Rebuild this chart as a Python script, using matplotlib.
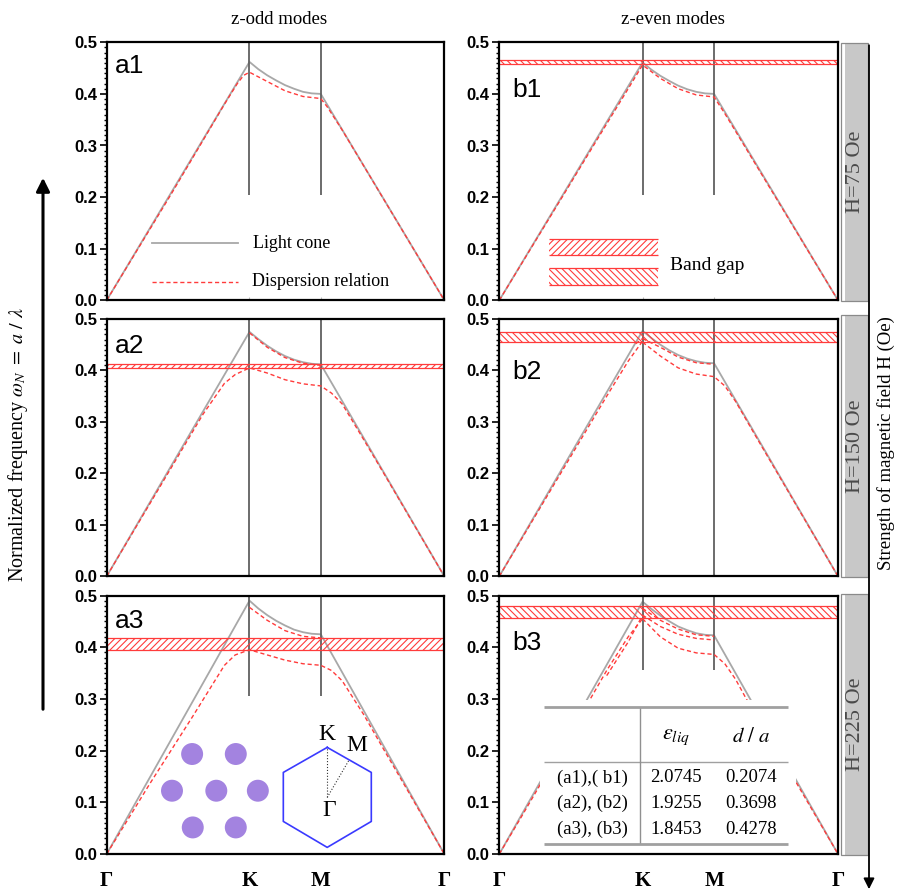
import matplotlib
matplotlib.use('Agg')
import matplotlib.pyplot as plt
from matplotlib.patches import Rectangle
from matplotlib.ticker import MultipleLocator

plt.rcParams['font.family'] = ['Liberation Serif', 'DejaVu Serif']
plt.rcParams['mathtext.fontset'] = 'stix'
plt.rcParams['hatch.linewidth'] = 0.8
plt.rcParams['hatch.color'] = '#ff3b3b'

W, H = 898, 893

# k-path: Gamma - K - M - Gamma
path_ticks = [0.0, 0.667, 1.0, 1.577]
path_labels = ['Γ', 'K', 'M', 'Γ']

# light cone
cone_k = [0.0, 0.667, 0.708, 0.75, 0.792, 0.833, 0.875, 0.917, 0.958, 1.0, 1.577]
cone_a1 = [0.0, 0.462, 0.448, 0.436, 0.426, 0.417, 0.410, 0.404, 0.401, 0.400, 0.0]
cone_a2 = [0.0, 0.475, 0.461, 0.448, 0.437, 0.428, 0.421, 0.416, 0.413, 0.412, 0.0]
cone_a3 = [0.0, 0.490, 0.475, 0.462, 0.451, 0.442, 0.434, 0.429, 0.426, 0.425, 0.0]
cone_b1 = [0.0, 0.461, 0.447, 0.435, 0.425, 0.416, 0.409, 0.404, 0.401, 0.400, 0.0]
cone_b2 = [0.0, 0.477, 0.463, 0.450, 0.439, 0.430, 0.423, 0.418, 0.415, 0.414, 0.0]
cone_b3 = [0.0, 0.488, 0.474, 0.461, 0.450, 0.440, 0.433, 0.427, 0.424, 0.423, 0.0]

# dispersion branches (k, omega)
km_k = [0.667, 0.75, 0.833, 0.917, 1.0]
disp_a1 = [
    ([0.0, 0.3, 0.55, 0.61, 0.64, 0.667, 0.75, 0.833, 0.917, 1.0, 1.03, 1.1, 1.577],
     [0.0, 0.205, 0.38, 0.42, 0.436, 0.442, 0.424, 0.406, 0.395, 0.391, 0.375, 0.33, 0.0]),
]
disp_a2 = [
    ([0.0, 0.3, 0.45, 0.55, 0.6, 0.667, 0.75, 0.833, 0.917, 1.0, 1.05, 1.1, 1.2, 1.3, 1.577],
     [0.0, 0.21, 0.315, 0.375, 0.392, 0.405, 0.395, 0.382, 0.374, 0.370, 0.356, 0.335, 0.266, 0.196, 0.0]),
    (km_k, [0.473, 0.445, 0.425, 0.414, 0.410]),
]
disp_a3 = [
    ([0.0, 0.2, 0.4, 0.55, 0.6, 0.667, 0.75, 0.833, 0.917, 1.0, 1.05, 1.1, 1.2, 1.3, 1.4, 1.577],
     [0.0, 0.135, 0.265, 0.365, 0.385, 0.395, 0.385, 0.375, 0.368, 0.365, 0.355, 0.335, 0.27, 0.198, 0.127, 0.0]),
    (km_k, [0.477, 0.452, 0.432, 0.421, 0.418]),
]
disp_b1 = [
    ([0.0, 0.3, 0.5, 0.6, 0.667, 0.75, 0.833, 0.917, 1.0, 1.05, 1.2, 1.577],
     [0.0, 0.205, 0.342, 0.41, 0.456, 0.43, 0.41, 0.398, 0.394, 0.362, 0.259, 0.0]),
]
disp_b2 = [
    ([0.0, 0.3, 0.5, 0.6, 0.667], [0.0, 0.21, 0.350, 0.418, 0.457]),
    ([0.635, 0.667], [0.452, 0.462]),
    (km_k, [0.462, 0.445, 0.426, 0.415, 0.412]),
    (km_k + [1.05, 1.1, 1.2, 1.577], [0.455, 0.428, 0.405, 0.393, 0.388, 0.37, 0.34, 0.268, 0.0]),
]
disp_b3 = [
    ([0.0, 0.1, 0.41, 0.5, 0.6, 0.667], [0.0, 0.07, 0.29, 0.355, 0.42, 0.455]),
    ([0.5, 0.6, 0.667], [0.345, 0.41, 0.462]),
    (km_k, [0.475, 0.452, 0.435, 0.424, 0.421]),
    (km_k, [0.462, 0.44, 0.425, 0.417, 0.414]),
    (km_k + [1.05, 1.1, 1.15, 1.2, 1.577], [0.455, 0.42, 0.398, 0.389, 0.386, 0.368, 0.338, 0.30, 0.268, 0.0]),
]

# band gaps (lower, upper)
gap_a2 = (0.4056, 0.4134)
gap_a3 = (0.3955, 0.4175)
gap_b1 = (0.4574, 0.4650)
gap_b2 = (0.4560, 0.4755)
gap_b3 = (0.4556, 0.4794)

# lower end of the K / M marker lines
vline_bottom = {'a1': 0.205, 'a2': 0.0, 'a3': 0.305, 'b1': 0.205, 'b2': 0.0, 'b3': 0.355}

# table in b3
table_rows = ['(a1),( b1)', '(a2), (b2)', '(a3), (b3)']
eps_liq = ['2.0745', '1.9255', '1.8453']
d_over_a = ['0.2074', '0.3698', '0.4278']

# lattice inset (a3)
rod_x = [0.399, 0.603, 0.305, 0.512, 0.706, 0.402, 0.603]
rod_y = [0.1934, 0.1934, 0.1224, 0.1224, 0.1224, 0.0514, 0.0514]
hex_x = [1.030, 1.236, 1.236, 1.030, 0.825, 0.825, 1.030]
hex_y = [0.2062, 0.1578, 0.0630, 0.0128, 0.0630, 0.1578, 0.2062]

field_labels = ['H=75 Oe', 'H=150 Oe', 'H=225 Oe']

RED = '#ff3b3b'
GRAY = '#a8a8a8'

fig = plt.figure(figsize=(W / 100, H / 100), dpi=100)

rows_px = [(42.3, 300.3), (319.0, 576.3), (595.5, 854.0)]
cols_px = [(106.7, 444.3), (499.3, 838.0)]

panels = {
    'a1': (0, 0, cone_a1, disp_a1, None, '/////', (0.025, 0.881)),
    'a2': (1, 0, cone_a2, disp_a2, gap_a2, '/////', (0.025, 0.867)),
    'a3': (2, 0, cone_a3, disp_a3, gap_a3, '/////', (0.025, 0.876)),
    'b1': (0, 1, cone_b1, disp_b1, gap_b1, '\\\\\\\\\\', (0.037, 0.789)),
    'b2': (1, 1, cone_b2, disp_b2, gap_b2, '\\\\\\\\\\', (0.037, 0.768)),
    'b3': (2, 1, cone_b3, disp_b3, gap_b3, '\\\\\\\\\\', (0.037, 0.790)),
}

axes = {}
for name, (r, c, cone, disp, gap, hatch, lab_pos) in panels.items():
    top, bot = rows_px[r]
    x0, x1 = cols_px[c]
    ax = fig.add_axes([x0 / W, (H - bot) / H, (x1 - x0) / W, (bot - top) / H])
    axes[name] = ax
    ax.set_xlim(0, path_ticks[-1])
    ax.set_ylim(0, 0.5)

    ax.plot(cone_k, cone, color=GRAY, lw=1.3, zorder=2)
    for kk, ww in disp:
        ax.plot(kk, ww, color=RED, lw=1.0, ls=(0, (3, 2)), zorder=2.2)
    ax.vlines(path_ticks[1:3], vline_bottom[name], 0.5, color='#606060', lw=1.3, zorder=2.1)

    if gap is not None:
        ax.fill_between(path_ticks[::3], gap[0], gap[1], facecolor='none', edgecolor=RED,
                        hatch=hatch, linewidth=0, zorder=2.5)
        ax.axhline(gap[0], color=RED, lw=0.9, zorder=2.5)
        ax.axhline(gap[1], color=RED, lw=0.9, zorder=2.5)

    ax.text(lab_pos[0], lab_pos[1], name, transform=ax.transAxes, fontsize=19,
            family='Liberation Sans', va='baseline', ha='left')

    ax.yaxis.set_major_locator(MultipleLocator(0.1))
    ax.yaxis.set_minor_locator(MultipleLocator(0.01))
    ax.yaxis.set_major_formatter(plt.FormatStrFormatter('%.1f'))
    ax.tick_params(axis='y', which='major', direction='out', length=5, width=1.2, pad=2)
    ax.tick_params(axis='y', which='minor', direction='out', length=2.5, width=1.0)
    for lbl in ax.get_yticklabels():
        lbl.set_family('Liberation Sans')
        lbl.set_fontweight('bold')
        lbl.set_fontsize(12)

    ax.set_xticks(path_ticks)
    if r == 2:
        ax.set_xticklabels(path_labels, fontsize=15, fontweight='bold')
        ax.tick_params(axis='x', length=0, pad=12)
    else:
        ax.set_xticklabels([])
        ax.tick_params(axis='x', length=2, direction='in', color='#bbbbbb')
    for sp in ax.spines.values():
        sp.set_linewidth(1.6)

# legend in a1
ax = axes['a1']
ax.plot([0.21, 0.615], [0.111, 0.111], color=GRAY, lw=1.3)
ax.text(0.683, 0.111, 'Light cone', fontsize=13, va='center')
ax.plot([0.21, 0.615], [0.0355, 0.0355], color=RED, lw=1.0, ls=(0, (3, 2)))
ax.text(0.68, 0.0355, 'Dispersion relation', fontsize=13, va='center')

# band gap legend in b1
ax = axes['b1']
for (lo, hi), hh in [((0.0884, 0.1188), '/////'), ((0.0304, 0.0627), '\\\\\\\\\\')]:
    ax.fill_between([0.233, 0.741], lo, hi, facecolor='none', edgecolor=RED, hatch=hh, linewidth=0)
    ax.hlines([lo, hi], 0.233, 0.741, color=RED, lw=0.9)
ax.text(0.795, 0.0677, 'Band gap', fontsize=14, va='center')

# lattice and Brillouin zone in a3
ax = axes['a3']
ax.scatter(rod_x, rod_y, s=250, color='#a383e0', edgecolors='none', zorder=3)
ax.plot(hex_x, hex_y, color='#3a3aff', lw=1.2, zorder=3)
ax.plot([1.030, 1.030], [0.1094, 0.2062], color='#333333', lw=0.8, ls=':', zorder=3)
ax.plot([1.030, 1.133], [0.1094, 0.1824], color='#333333', lw=0.8, ls=':', zorder=3)
ax.text(1.030, 0.232, 'K', fontsize=17, ha='center', va='center', zorder=3)
ax.text(1.168, 0.209, 'M', fontsize=17, ha='center', va='center', zorder=3)
ax.text(1.040, 0.084, 'Γ', fontsize=17, ha='center', va='center', zorder=3)

# parameter table in b3
ax = axes['b3']
ax.add_patch(Rectangle((0.19, 0.003), 1.19, 0.294, facecolor='white', edgecolor='none', zorder=3))
ax.hlines([0.2846, 0.0199], 0.21, 1.345, color='#a0a0a0', lw=2.0, zorder=4)
ax.hlines(0.1786, 0.21, 1.345, color='#a0a0a0', lw=1.0, zorder=4)
ax.vlines(0.6528, 0.022, 0.283, color='#909090', lw=1.0, zorder=4)
ax.text(0.8244, 0.2256, r'$\varepsilon_{liq}$', fontsize=16, ha='center', va='center', zorder=4)
ax.text(1.174, 0.2256, r'$d\ /\ a$', fontsize=15, ha='center', va='center', zorder=4)
for i, yy in enumerate([0.1471, 0.0983, 0.0474]):
    ax.text(0.4353, yy, table_rows[i], fontsize=13.5, ha='center', va='center', zorder=4)
    ax.text(0.8244, yy, eps_liq[i], fontsize=13.5, ha='center', va='center', zorder=4)
    ax.text(1.174, yy, d_over_a[i], fontsize=13.5, ha='center', va='center', zorder=4)

# column titles
fig.text(279 / W, 1 - 19 / H, 'z-odd modes', fontsize=13.5, ha='center', va='center')
fig.text(673 / W, 1 - 19 / H, 'z-even modes', fontsize=13.5, ha='center', va='center')

# left axis label with arrow
fig.text(18 / W, 1 - 445 / H, r'Normalized frequency $\omega_N\ =\ a\ /\ \lambda$', fontsize=14.5,
         rotation=90, ha='center', va='center')
fig.patches.append(matplotlib.patches.FancyArrowPatch(
    (43 / W, 1 - 712 / H), (43 / W, 1 - 175 / H), transform=fig.transFigure,
    arrowstyle='-|>', mutation_scale=20, lw=2.2, color='black'))

# magnetic field strip on the right
strip_l, strip_r = 840.7, 868.0
gray_rows = [(42.5, 301.0), (315.0, 577.0), (594.0, 855.0)]
for (t, b), lab in zip(gray_rows, field_labels):
    fig.patches.append(Rectangle((845 / W, 1 - b / H), (strip_r - 845) / W, (b - t) / H,
                                 transform=fig.transFigure, facecolor='#c8c8c8', edgecolor='none'))
    fig.patches.append(Rectangle((strip_l / W, 1 - b / H), (strip_r - strip_l) / W, (b - t) / H,
                                 transform=fig.transFigure, facecolor='none', edgecolor='#8a8a8a', lw=0.9))
    fig.text(855.5 / W, 1 - (t + b) / 2 / H, lab, fontsize=16, color='#4a4a4a',
             rotation=90, ha='center', va='center')
fig.patches.append(matplotlib.patches.FancyArrowPatch(
    (869 / W, 1 - 42.5 / H), (869 / W, 1 - 892 / H), transform=fig.transFigure,
    arrowstyle='-|>', mutation_scale=16, lw=1.3, color='black'))
fig.text(886 / W, 1 - 443 / H, 'Strength of magnetic field H (Oe)', fontsize=13.5,
         rotation=90, ha='center', va='center')

fig.savefig('out.png', dpi=100)
